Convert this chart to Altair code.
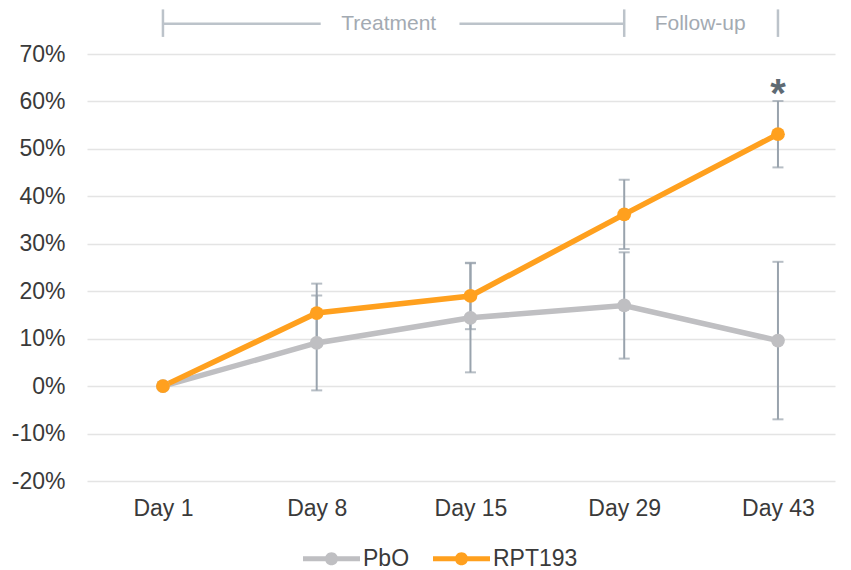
import altair as alt
import pandas as pd

days = ["Day 1", "Day 8", "Day 15", "Day 29", "Day 43"]
groups = ["PbO", "RPT193"]
pbo_mean = [0.0, 9.1, 14.4, 17.0, 9.6]
pbo_err = [0.0, 10.0, 11.5, 11.2, 16.6]
rpt_mean = [0.0, 15.4, 19.0, 36.2, 53.1]
rpt_err = [0.0, 6.2, 7.0, 7.3, 7.0]
y_ticks = [-20, -10, 0, 10, 20, 30, 40, 50, 60, 70]

rows = []
for g, means, errs in [("PbO", pbo_mean, pbo_err), ("RPT193", rpt_mean, rpt_err)]:
    for i, (d, m, e) in enumerate(zip(days, means, errs)):
        rows.append({"xi": i, "day": d, "group": g, "mean": m, "lo": m - e, "hi": m + e, "err": e})
df = pd.DataFrame(rows)

GRAY = "#BFBFC2"
ORANGE = "#FFA01E"
ERR = "#99A3AD"
BRACKET = "#BCC3CA"
FONT = "Liberation Sans"

day_array = "[" + ",".join("'" + d + "'" for d in days) + "]"
xs = alt.Scale(domain=[-0.494, 4.371], nice=False, zero=False)
ys = alt.Scale(domain=[-20, 70], nice=False, zero=False)

x_enc = alt.X("xi:Q", scale=xs,
              axis=alt.Axis(title=None, values=list(range(len(days))),
                            labelExpr=day_array + "[datum.value]", ticks=False, domain=False, grid=False,
                            labelFontSize=23, labelColor="#3A3A3A", labelFont=FONT, labelPadding=16))
y_axis = alt.Axis(title=None, values=y_ticks, labelExpr="datum.value + '%'", ticks=False, domain=False,
                  grid=True, gridColor="#E4E4E4", gridWidth=1.5, labelFontSize=23,
                  labelColor="#3A3A3A", labelFont=FONT, labelPadding=22)

legend_path = ("M-1,-0.09H1V0.09H-1Z "
               "M-0.23,0A0.23,0.23 0 1,1 0.23,0A0.23,0.23 0 1,1 -0.23,0Z")
color = alt.Color("group:N", scale=alt.Scale(domain=groups, range=[GRAY, ORANGE]),
                  legend=alt.Legend(title=None, orient="none", direction="horizontal",
                                    legendX=216, legendY=476, padding=0,
                                    symbolType=legend_path, symbolSize=3249, symbolStrokeWidth=0,
                                    symbolOpacity=1, labelFontSize=23, labelColor="#3A3A3A",
                                    labelFont=FONT, labelOffset=3, columnPadding=23))

base = alt.Chart(df)

errdata = base.transform_filter("datum.err > 0")
err_rule = errdata.mark_rule(color=ERR, strokeWidth=2).encode(
    x=x_enc, y=alt.Y("lo:Q", scale=ys, axis=y_axis), y2="hi:Q")
cap_lo = errdata.mark_tick(color=ERR, size=11, thickness=2, orient="horizontal").encode(
    x=x_enc, y=alt.Y("lo:Q", scale=ys))
cap_hi = errdata.mark_tick(color=ERR, size=11, thickness=2, orient="horizontal").encode(
    x=x_enc, y=alt.Y("hi:Q", scale=ys))

lines = base.mark_line(strokeWidth=5.5).encode(
    x=x_enc, y=alt.Y("mean:Q", scale=ys), color=color, detail="group:N")

points = base.mark_point(filled=True, size=190, opacity=1).encode(
    x=x_enc, y=alt.Y("mean:Q", scale=ys), color=color)

# significance marker
star = alt.Chart(pd.DataFrame({"xi": [4], "v": [rpt_mean[4] + rpt_err[4]]})).mark_text(
    text="*", fontSize=40, fontWeight="bold", font=FONT, color="#5E6A73",
    baseline="alphabetic", dy=6).encode(
    x=alt.X("xi:Q", scale=xs), y=alt.Y("v:Q", scale=ys))

# phase annotation
ann_y = 76.4
brk_top, brk_bot = 79.4, 73.6
vbr = alt.Chart(pd.DataFrame({"xi": [0, 3, 4]})).mark_rule(
    color=BRACKET, strokeWidth=2.5).encode(
    x=alt.X("xi:Q", scale=xs), y=alt.datum(brk_bot, scale=ys), y2=alt.datum(brk_top))
h1 = alt.Chart(pd.DataFrame({"a": [0], "b": [1]})).mark_rule(
    color=BRACKET, strokeWidth=2.5, x2Offset=4).encode(
    x=alt.X("a:Q", scale=xs), x2="b:Q", y=alt.datum(ann_y, scale=ys))
h2 = alt.Chart(pd.DataFrame({"a": [2], "b": [3]})).mark_rule(
    color=BRACKET, strokeWidth=2.5, xOffset=-11).encode(
    x=alt.X("a:Q", scale=xs), x2="b:Q", y=alt.datum(ann_y, scale=ys))
t1 = alt.Chart(pd.DataFrame({"xi": [1]})).mark_text(
    text="Treatment", fontSize=21, font=FONT, color="#A3AAB2", dx=72, baseline="middle").encode(
    x=alt.X("xi:Q", scale=xs), y=alt.datum(ann_y, scale=ys))
t2 = alt.Chart(pd.DataFrame({"xi": [3]})).mark_text(
    text="Follow-up", fontSize=21, font=FONT, color="#A3AAB2", dx=76, baseline="middle").encode(
    x=alt.X("xi:Q", scale=xs), y=alt.datum(ann_y, scale=ys))

chart = alt.layer(err_rule, cap_lo, cap_hi, lines, points, star, vbr, h1, h2, t1, t2).properties(
    width=748, height=427,
    autosize=alt.AutoSizeParams(type="none"),
    padding={"left": 79, "top": 46, "right": 8, "bottom": 90},
).configure(font=FONT).configure_view(stroke=None)

chart.save("out.html", embed_options={"renderer": "svg", "actions": False})
